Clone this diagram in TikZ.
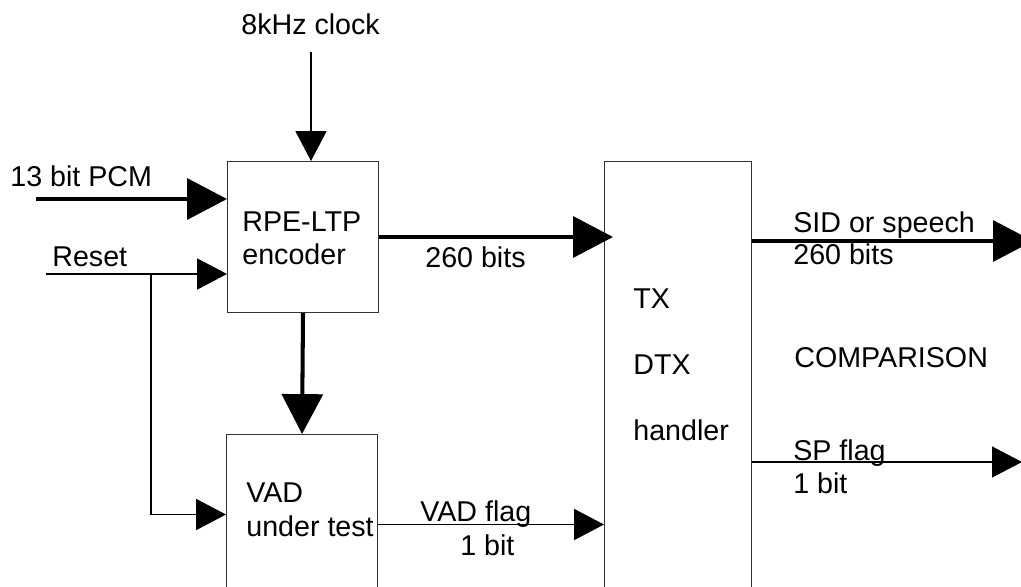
\documentclass[tikz,border=0pt]{standalone}
\usepackage{fontspec}
\setmainfont{Liberation Sans}
\usetikzlibrary{arrows.meta, positioning, calc}

\tikzset{
  blok/.style={draw=black!80, line width=0.6pt, inner sep=0pt, anchor=north west},
  label/.style={inner sep=0pt, anchor=base west, font=\fontsize{16.3}{19}\selectfont},
  heavy/.style={line width=2.3pt, -{Triangle[length=22.7pt, width=23.2pt]}},
  light/.style={line width=1pt, -{Triangle[length=17pt, width=17.6pt]}},
}

\begin{document}
\begin{tikzpicture}[x=0.02cm, y=-0.02cm]

      \useasboundingbox (0, 0) rectangle (1021, 587);
      \clip (0, 0) rectangle (1021, 587);

      % blocks
      \node[blok, minimum width=3.02cm, minimum height=3.02cm] (rpe) at (227, 161) {};
      \node[blok, minimum width=3.02cm, minimum height=3.6cm] (vad) at (226, 434) {};
      \node[blok, minimum width=2.94cm, minimum height=8.8cm] (tx) at (604, 161) {};

      % block texts
      \node[label] (rpe1) at (242, 232) {RPE-LTP};
      \node[label] (rpe2) at (242, 265) {encoder};
      \node[label] (vad1) at (246, 502) {VAD};
      \node[label] (vad2) at (246, 536) {under test};
      \node[label] (tx1) at (633, 309) {TX};
      \node[label] (tx2) at (633, 375) {DTX};
      \node[label] (tx3) at (633, 440) {handler};

      % signal labels
      \node[label] (clklbl) at (241, 35) {8kHz clock};
      \node[label] (pcmlbl) at (10, 187) {13 bit PCM};
      \node[label] (rstlbl) at (52, 267) {Reset};
      \node[label] (bitslbl) at (425, 268) {260 bits};
      \node[label] (flaglbl) at (420, 521) {VAD flag};
      \node[label] (flagbit) at (460, 555) {1 bit};
      \node[label] (sidlbl) at (793, 233) {SID or speech};
      \node[label] (sidbits) at (793, 265) {260 bits};
      \node[label] (cmplbl) at (794, 368) {COMPARISON};
      \node[label] (splbl) at (793, 460) {SP flag};
      \node[label] (spbit) at (793, 493) {1 bit};

      % free ends
      \coordinate (clk) at (311, 52);
      \coordinate (pcm) at (36, 199);
      \coordinate (rst) at (46, 274);
      \coordinate (branch) at (151, 274);
      \coordinate (sidout) at (1033, 241);
      \coordinate (spout) at (1022, 462);

      % connectors
      \draw[light] (clk) -- (clk |- rpe.north);
      \draw[heavy] (pcm) -- (pcm -| rpe.west);
      \draw[light] (rst) -- (rst -| rpe.west);
      \draw[light] (branch) |- ([yshift=0.2cm]vad.west);
      \draw[heavy] (rpe.south) -- (vad.north);
      \draw[heavy] (rpe.east) -- ([xshift=0.18cm]rpe.east -| tx.west);
      \draw[light] (vad.east) -- (vad.east -| tx.west);
      \draw[heavy] (tx.east |- sidout) -- (sidout);
      \draw[light, line width=0.6pt] (tx.east |- spout) -- (spout);

    \end{tikzpicture}
\end{document}
